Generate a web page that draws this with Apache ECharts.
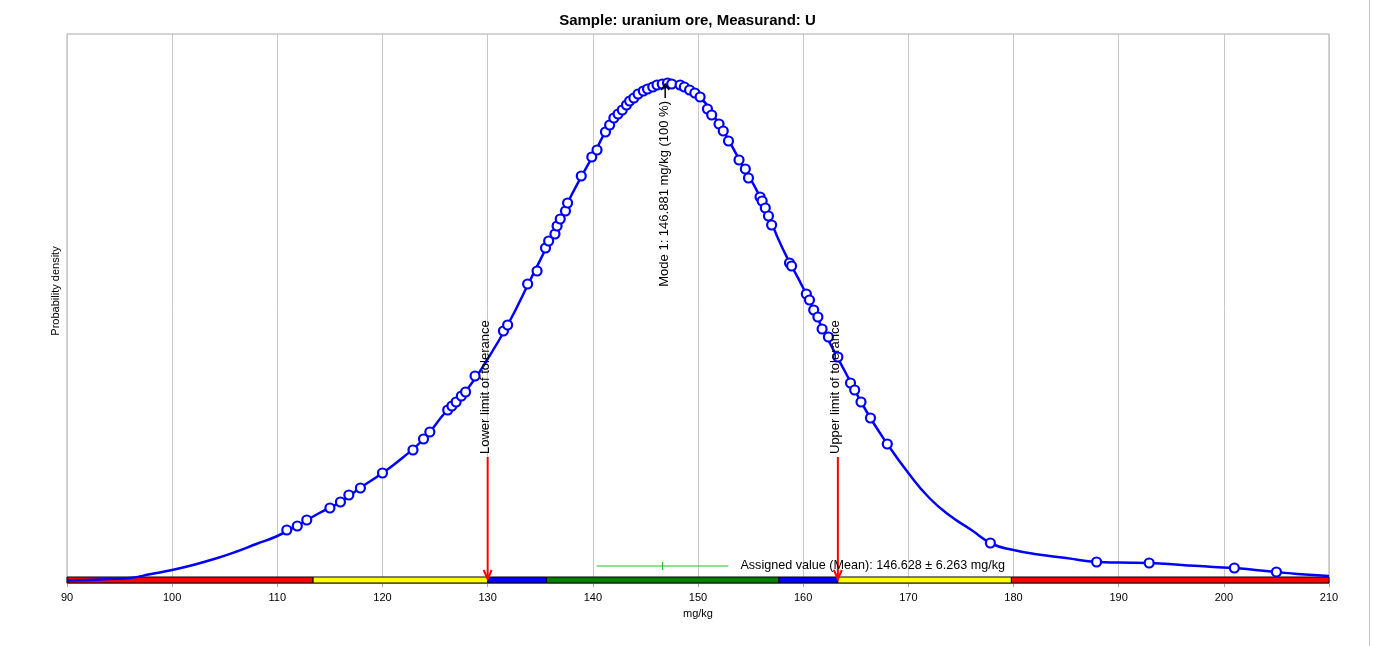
<!DOCTYPE html>
<html><head><meta charset="utf-8">
<script src="https://cdn.jsdelivr.net/npm/echarts@6/dist/echarts.min.js"></script>
<style>html,body{margin:0;padding:0;background:#fff}#c{width:1375px;height:646px}</style>
</head><body><div id="c"></div>
<script>
// Kernel density curve (x in mg/kg, y = relative density in % of mode)
const curveX = [90,92,94,96,98,100,102,104,106,108,110,112,114,116,118,120,122,124,126,128,130,132,134,136,138,140,142,144,146,147,148,150,152,154,156,158,160,162,164,166,168,170,172,174,176,178,180,182,185,188,190,193,196,199,201,203,205,207,210];
const curveY = [0.5,0.6,0.8,1.0,1.8,2.6,3.6,4.8,6.2,7.8,9.4,11.6,14.0,16.2,19.2,22.0,25.2,29.0,34.2,38.6,44.8,52.0,60.4,68.9,77.7,85.4,93.0,97.2,99.5,100,99.7,97.5,91.8,84.4,76.8,67.1,59.0,50.2,42.2,34.4,27.8,22.0,17.0,13.4,10.6,7.8,6.6,5.8,5.0,4.2,4.1,4.0,3.6,3.2,3.0,2.6,2.2,1.8,1.4];
// Participant results (circles on the curve)
const pointX = [110.9,111.9,112.8,115.0,116.0,116.8,117.9,120.0,122.9,123.9,124.5,126.2,126.6,127.0,127.5,127.9,128.8,131.5,131.9,133.8,134.7,135.5,135.8,136.4,136.6,136.9,137.4,137.6,138.9,139.9,140.4,141.2,141.6,142.0,142.4,142.8,143.2,143.5,143.9,144.3,144.8,145.2,145.7,146.1,146.6,147.1,147.5,148.3,148.7,149.2,149.7,150.2,150.9,151.3,152.0,152.4,152.9,153.9,154.5,154.8,155.9,156.1,156.4,156.7,157.0,158.7,158.9,160.3,160.6,161.0,161.4,161.8,162.4,163.3,164.5,164.9,165.5,166.4,168.0,177.8,187.9,192.9,201.0,205.0];
const pointY = [10.6,11.4,12.6,15.0,16.2,17.6,19.0,22.0,26.6,28.8,30.2,34.6,35.4,36.2,37.4,38.2,41.4,50.4,51.6,59.8,62.4,67.0,68.4,69.8,71.4,72.8,74.4,76.0,81.4,85.2,86.6,90.2,91.6,93.0,93.8,94.6,95.6,96.4,97.0,97.8,98.4,98.8,99.2,99.6,99.8,100,99.8,99.6,99.2,98.6,98.0,97.2,94.8,93.6,91.8,90.4,88.4,84.6,82.8,81.0,77.2,76.4,75.0,73.4,71.6,64.0,63.4,57.8,56.6,54.6,53.2,50.8,49.2,45.2,40.0,38.6,36.2,33.0,27.8,8.0,4.2,4.0,3.0,2.2];
// Evaluation zones along the axis
const zoneEdges = [90,113.4,130.0,135.6,157.7,163.3,179.8,210];
const zoneColors = ['#ff0000','#ffff00','#0000ff','#008000','#0000ff','#ffff00','#ff0000'];
// Annotations
const assignedValue = 146.628, assignedU = 6.263, assignedY = 3.4;
const modeValue = 146.881, modeY = 100;
const limitValues = [130.0, 163.3];
const limitLabels = ['Lower limit of tolerance', 'Upper limit of tolerance'];
const limitTopY = 25.2, limitBottomY = 0.8;
const xMin = 90, xMax = 210, xInterval = 10;

const FONT = '"Liberation Sans", Arial, sans-serif';
const curveData = curveX.map((x, i) => [x, curveY[i]]);
const pointData = pointX.map((x, i) => [x, pointY[i]]);
const zoneData = zoneColors.map((c, i) => [zoneEdges[i], zoneEdges[i + 1]]);

const chart = echarts.init(document.getElementById('c'), null, {renderer: 'canvas'});
chart.setOption({
  animation: false,
  backgroundColor: '#fff',
  title: {
    text: 'Sample: uranium ore, Measurand: U',
    left: 'center', top: 8,
    textStyle: {fontFamily: FONT, fontSize: 15, fontWeight: 'bold', color: '#000'}
  },
  grid: {left: 67, right: 46, top: 34, bottom: 63, show: true, borderColor: '#a8a8a8', borderWidth: 1, backgroundColor: '#fff'},
  xAxis: {
    type: 'value', min: xMin, max: xMax, interval: xInterval,
    axisLine: {show: true, lineStyle: {color: '#a8a8a8'}},
    axisTick: {show: true, length: 4, lineStyle: {color: '#a8a8a8'}},
    axisLabel: {fontFamily: FONT, fontSize: 11, color: '#000', margin: 9},
    splitLine: {show: true, lineStyle: {color: '#c8c8c8', width: 1}}
  },
  yAxis: {
    type: 'value', min: 0, max: 109.8,
    axisLine: {show: false}, axisTick: {show: false}, axisLabel: {show: false}, splitLine: {show: false}
  },
  graphic: [
    {type: 'text', x: 56, y: 291, rotation: Math.PI / 2,
     style: {text: 'Probability density', font: '11px ' + FONT, fill: '#000', align: 'center', verticalAlign: 'middle'}},
    {type: 'text', x: 698, y: 614,
     style: {text: 'mg/kg', font: '11px ' + FONT, fill: '#000', align: 'center', verticalAlign: 'middle'}},
    {type: 'line', shape: {x1: 1369.5, y1: 0, x2: 1369.5, y2: 646}, style: {stroke: '#c4c4c4', lineWidth: 1}}
  ],
  series: [
    {
      type: 'custom', name: 'zones', z: 1, silent: true,
      data: zoneData,
      renderItem: (params, api) => {
        const a = api.coord([api.value(0), 0]);
        const b = api.coord([api.value(1), 0]);
        return {type: 'rect', shape: {x: a[0], y: a[1] - 6, width: b[0] - a[0], height: 6},
                style: {fill: zoneColors[params.dataIndex], stroke: '#000', lineWidth: 1}};
      }
    },
    {
      type: 'line', name: 'density', z: 3, data: curveData, smooth: 0.5, showSymbol: false,
      lineStyle: {color: '#0000ff', width: 2.5}
    },
    {
      type: 'scatter', name: 'results', z: 4, data: pointData, symbol: 'circle', symbolSize: 9,
      itemStyle: {color: '#ffffff', borderColor: '#0000ff', borderWidth: 2.2, opacity: 1}
    },
    {
      type: 'custom', name: 'limits', z: 5, silent: true,
      data: limitValues.map(v => [v, limitTopY, limitBottomY]),
      renderItem: (params, api) => {
        const top = api.coord([api.value(0), api.value(1)]);
        const bot = api.coord([api.value(0), api.value(2)]);
        return {type: 'group', children: [
          {type: 'line', shape: {x1: top[0], y1: top[1], x2: bot[0], y2: bot[1]}, style: {stroke: '#ff0000', lineWidth: 2}},
          {type: 'polyline', shape: {points: [[bot[0] - 4, bot[1] - 9], [bot[0], bot[1]], [bot[0] + 4, bot[1] - 9]]}, style: {stroke: '#ff0000', lineWidth: 2, fill: null}},
          {type: 'text', x: top[0] - 2, y: top[1] - 3, rotation: Math.PI / 2,
           style: {text: limitLabels[params.dataIndex], font: '13px ' + FONT, fill: '#000', align: 'left', verticalAlign: 'middle'}}
        ]};
      }
    },
    {
      type: 'custom', name: 'assigned', z: 5, silent: true,
      data: [[assignedValue, assignedU, assignedY]],
      renderItem: (params, api) => {
        const m = api.value(0), u = api.value(1), y = api.value(2);
        const l = api.coord([m - u, y]), r = api.coord([m + u, y]), c = api.coord([m, y]);
        return {type: 'group', children: [
          {type: 'line', shape: {x1: l[0], y1: l[1], x2: r[0], y2: r[1]}, style: {stroke: '#22c322', lineWidth: 1.2}},
          {type: 'line', shape: {x1: c[0], y1: c[1] - 4, x2: c[0], y2: c[1] + 4}, style: {stroke: '#22c322', lineWidth: 1.2}},
          {type: 'text', x: r[0] + 12, y: r[1],
           style: {text: 'Assigned value (Mean): ' + m.toFixed(3) + ' \u00b1 ' + u.toFixed(3) + ' mg/kg', font: '12.6px ' + FONT, fill: '#000', align: 'left', verticalAlign: 'middle'}}
        ]};
      }
    },
    {
      type: 'custom', name: 'mode', z: 6, silent: true,
      data: [[modeValue, modeY]],
      renderItem: (params, api) => {
        const p = api.coord([api.value(0), api.value(1)]);
        const bx = p[0], ty = p[1] + 1, by = p[1] + 15;
        return {type: 'group', children: [
          {type: 'line', shape: {x1: bx, y1: ty, x2: bx, y2: by}, style: {stroke: '#000', lineWidth: 1.5}},
          {type: 'polyline', shape: {points: [[bx - 4, ty + 6], [bx, ty], [bx + 4, ty + 6]]}, style: {stroke: '#000', lineWidth: 1.5, fill: null}},
          {type: 'text', x: bx - 1, y: by + 3, rotation: Math.PI / 2,
           style: {text: 'Mode 1: ' + api.value(0).toFixed(3) + ' mg/kg (100 %)', font: '13px ' + FONT, fill: '#000', align: 'right', verticalAlign: 'middle'}}
        ]};
      }
    }
  ]
});
</script>
</body></html>
